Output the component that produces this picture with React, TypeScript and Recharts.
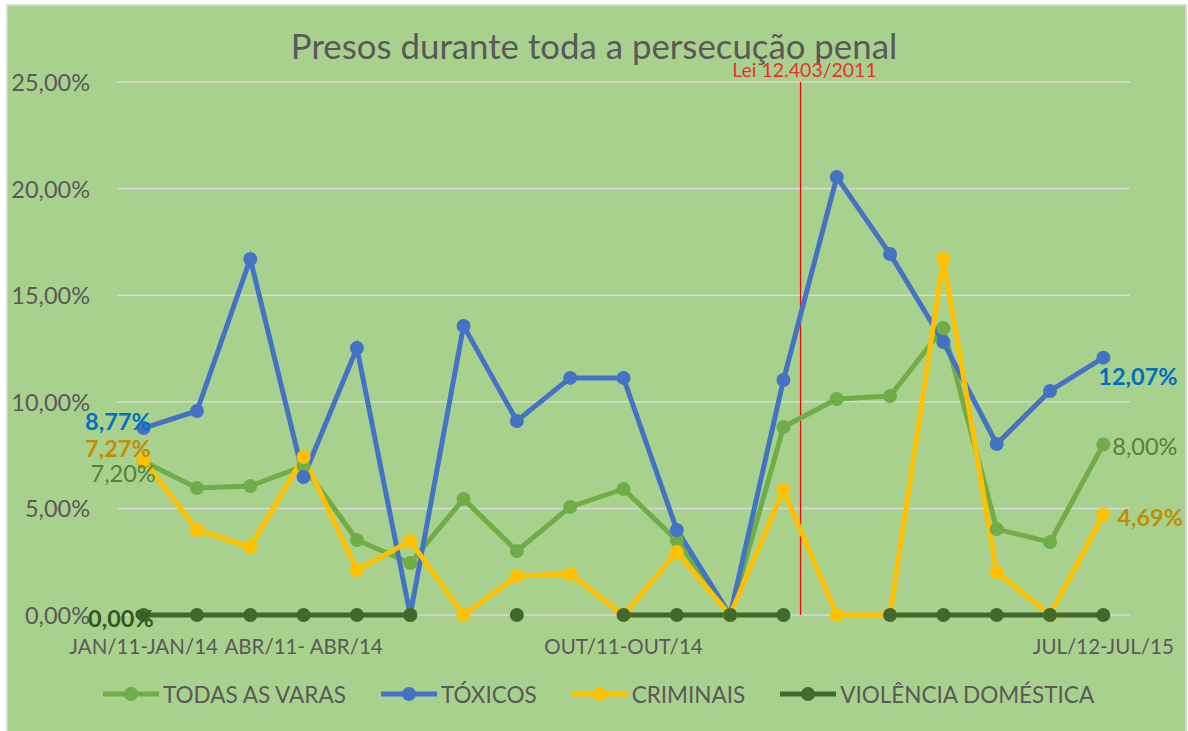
import React from 'react';
import { LineChart, Line, XAxis, YAxis, CartesianGrid, ReferenceLine } from 'recharts';

const categories = [
  'JAN/11-JAN/14', 'FEV/11-FEV/14', 'MAR/11-MAR/14', 'ABR/11- ABR/14', 'MAI/11-MAI/14',
  'JUN/11-JUN/14', 'JUL/11-JUL/14', 'AGO/11-AGO/14', 'SET/11-SET/14', 'OUT/11-OUT/14',
  'NOV/11-NOV/14', 'DEZ/11-DEZ/14', 'JAN/12-JAN/15', 'FEV/12-FEV/15', 'MAR/12-MAR/15',
  'ABR/12-ABR/15', 'MAI/12-MAI/15', 'JUN/12-JUN/15', 'JUL/12-JUL/15',
];
const shownTicks = [0, 3, 9, 18];
const yTicks = [0, 5, 10, 15, 20, 25];

const todasAsVaras = [7.2, 5.96, 6.05, 6.99, 3.52, 2.44, 5.44, 3.0, 5.07, 5.91, 3.5, 0, 8.82, 10.13, 10.27, 13.46, 4.03, 3.42, 8.0];
const toxicos = [8.77, 9.57, 16.7, 6.47, 12.52, 0, 13.56, 9.1, 11.12, 11.12, 3.99, 0, 11.02, 20.54, 16.93, 12.8, 8.02, 10.51, 12.07];
const criminais = [7.27, 3.99, 3.19, 7.41, 2.11, 3.47, 0, 1.83, 1.92, 0, 2.95, 0, 5.86, 0, 0, 16.7, 2.02, 0, 4.69];
const violencia: (number | null)[] = [0, 0, 0, 0, 0, 0, null, 0, null, 0, 0, 0, 0, null, 0, 0, 0, 0, 0];

const leiPosition = 12.32;

const data = categories.map((cat, i) => ({
  idx: i,
  cat,
  todas: todasAsVaras[i],
  toxicos: toxicos[i],
  criminais: criminais[i],
  violencia: violencia[i],
}));

const FONT = 'Lato, "Open Sans", sans-serif';
const GREY = '#595959';

const fmt = (v: number) => `${v.toFixed(2).replace('.', ',')}%`;

type LabelSpec = { idx: number; anchor: 'start' | 'end'; dx: number; dy: number; bold: boolean; color: string };

const makeLabel = (specs: LabelSpec[]) => (props: any) => {
  const { x, y, value, index } = props;
  const s = specs.find((q) => q.idx === index);
  if (!s || value == null) return <g key={`l-${index}`} />;
  return (
    <text
      key={`l-${index}`}
      x={x + s.dx}
      y={y + s.dy}
      textAnchor={s.anchor}
      dominantBaseline="central"
      fontFamily={FONT}
      fontSize={23.5}
      fontWeight={s.bold ? 700 : 400}
      fill={s.color}
    >
      {fmt(value)}
    </text>
  );
};

const YTick = (props: any) => {
  const { x, y, payload } = props;
  return (
    <text x={x} y={y} textAnchor="end" dominantBaseline="central" fontFamily={FONT} fontSize={23.5} fill={GREY}>
      {fmt(payload.value)}
    </text>
  );
};

const XTick = (props: any) => {
  const { x, y, payload } = props;
  return (
    <text x={x} y={y} textAnchor="middle" dominantBaseline="central" fontFamily={FONT} fontSize={20.5} fill={GREY}>
      {categories[payload.value]}
    </text>
  );
};

const LeiLabel = (props: any) => {
  const vb = props.viewBox || {};
  return (
    <text x={vb.x + 4} y={vb.y - 13} textAnchor="middle" dominantBaseline="central" fontFamily={FONT} fontSize={19.5} fill="#E8312B">
      Lei 12.403/2011
    </text>
  );
};

const legendItems = [
  { name: 'TODAS AS VARAS', color: '#70AD47' },
  { name: 'TÓXICOS', color: '#4472C4' },
  { name: 'CRIMINAIS', color: '#FFC000' },
  { name: 'VIOLÊNCIA DOMÉSTICA', color: '#43682B' },
];

export default function App() {
  return (
    <div style={{ position: 'absolute', left: 0, top: 0, width: 1188, height: 731, background: '#fff', overflow: 'hidden', fontFamily: FONT }}>
      <div style={{ position: 'absolute', left: 6, top: 4, width: 1181, height: 760, background: '#A9D18E', border: '2px solid #D9D9D9', boxSizing: 'border-box' }} />
      <div style={{ position: 'absolute', left: 0, top: 23, width: 1188, textAlign: 'center', fontSize: 34.8, color: GREY, lineHeight: '46px' }}>
        Presos durante toda a persecução penal
      </div>
      <div style={{ position: 'absolute', left: 0, top: 0 }}>
        <LineChart width={1188} height={731} data={data} margin={{ top: 82, right: 58, bottom: 76, left: 0 }}>
          <CartesianGrid horizontal vertical={false} stroke="#D9D9D9" strokeWidth={1.5} />
          <XAxis
            dataKey="idx"
            type="number"
            domain={[-0.5, 18.5]}
            ticks={shownTicks}
            interval={0}
            axisLine={false}
            tickLine={false}
            tickSize={0}
            tickMargin={31}
            height={40}
            tick={<XTick />}
          />
          <YAxis
            type="number"
            domain={[0, 25]}
            ticks={yTicks}
            axisLine={false}
            tickLine={false}
            tickSize={0}
            tickMargin={27}
            width={117}
            tick={<YTick />}
          />
          <ReferenceLine x={leiPosition} stroke="#FF0000" strokeWidth={1.2} label={<LeiLabel />} />
          <Line
            dataKey="todas"
            stroke="#70AD47"
            strokeWidth={5}
            dot={{ r: 7, fill: '#70AD47', stroke: '#70AD47', strokeWidth: 0 }}
            isAnimationActive={false}
            label={makeLabel([
              { idx: 0, anchor: 'end', dx: 12, dy: 12, bold: false, color: '#548235' },
              { idx: 18, anchor: 'start', dx: 9, dy: 2, bold: false, color: '#548235' },
            ])}
          />
          <Line
            dataKey="toxicos"
            stroke="#4472C4"
            strokeWidth={5}
            dot={{ r: 7, fill: '#4472C4', stroke: '#4472C4', strokeWidth: 0 }}
            isAnimationActive={false}
            label={makeLabel([
              { idx: 0, anchor: 'end', dx: 7, dy: -7, bold: true, color: '#0070C0' },
              { idx: 18, anchor: 'start', dx: -5, dy: 18, bold: true, color: '#0070C0' },
            ])}
          />
          <Line
            dataKey="criminais"
            stroke="#FFC000"
            strokeWidth={5}
            dot={{ r: 7, fill: '#FFC000', stroke: '#FFC000', strokeWidth: 0 }}
            isAnimationActive={false}
            label={makeLabel([
              { idx: 0, anchor: 'end', dx: 7, dy: -12, bold: true, color: '#BF8F00' },
              { idx: 18, anchor: 'start', dx: 14, dy: 1.5, bold: true, color: '#BF8F00' },
            ])}
          />
          <Line
            dataKey="violencia"
            stroke="#43682B"
            strokeWidth={5}
            connectNulls={false}
            dot={{ r: 7, fill: '#43682B', stroke: '#43682B', strokeWidth: 0 }}
            isAnimationActive={false}
            label={makeLabel([{ idx: 0, anchor: 'end', dx: 10, dy: 2.5, bold: true, color: '#375623' }])}
          />
        </LineChart>
      </div>
      <div style={{ position: 'absolute', left: 103, top: 680, height: 28, display: 'flex', alignItems: 'center' }}>
        {legendItems.map((it) => (
          <div key={it.name} style={{ display: 'flex', alignItems: 'center', marginRight: 35 }}>
            <svg width={56} height={16} style={{ marginRight: 4 }}>
              <line x1={0} y1={8} x2={56} y2={8} stroke={it.color} strokeWidth={5} />
              <circle cx={28} cy={8} r={7} fill={it.color} />
            </svg>
            <span style={{ fontSize: 22.5, color: GREY, whiteSpace: 'nowrap' }}>{it.name}</span>
          </div>
        ))}
      </div>
    </div>
  );
}
